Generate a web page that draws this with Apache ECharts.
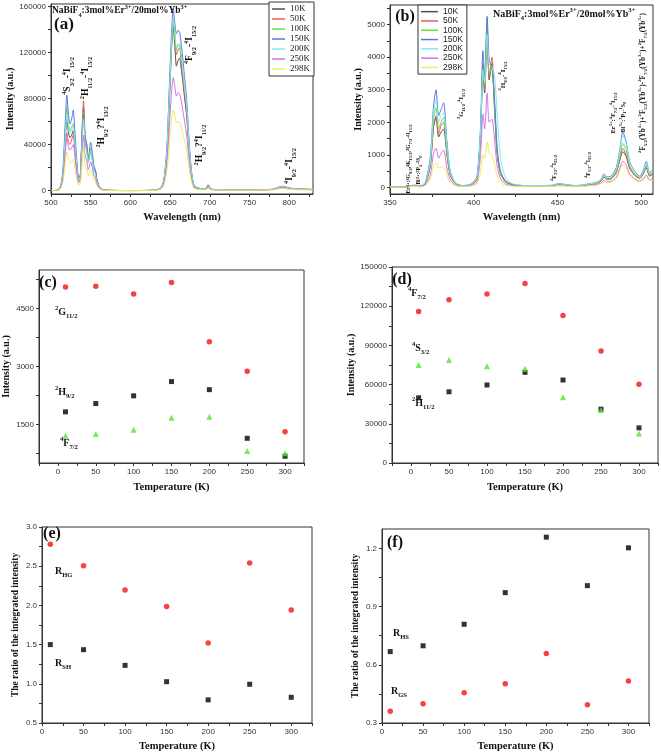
<!DOCTYPE html>
<html><head><meta charset="utf-8">
<script src="https://cdn.jsdelivr.net/npm/echarts@6/dist/echarts.min.js"></script>
<style>html,body{margin:0;padding:0;background:#fff}#c{width:661px;height:755px}</style>
</head><body><div id="c"></div>
<script>
// ---------- DATA ----------
const names = ['10K','50K','100K','150K','200K','250K','298K'];
// panel (a) spectra
const wlA = [500,508,512,515,518,520,522,524,526,528,530,533,535,537,539,541,543,545,547,550,552,554,556,558,562,570,600,630,638,642,646,649,652,654,656,658,660,662,664,666,668,671,675,680,690,695,698,701,710,750,780,786,791,796,802,815,830];
const a10K = [0,200,3000,13000,45000,62000,50000,46000,48000,52000,40000,17000,9000,12000,48000,72000,42000,36000,25000,34000,27000,18000,16000,8000,1800,300,0,300,2200,7500,31000,76000,125000,142000,125000,108000,113000,115000,106000,95000,82000,64000,27000,4000,1400,1400,4800,1400,700,500,1000,2400,3200,2800,1700,1100,900];
const a50K = [0,200,2500,11000,37000,50000,42000,40000,44000,48000,36000,15000,8000,12000,50000,78000,48000,40000,27000,36000,28000,19000,18000,9000,2000,300,0,300,2300,8000,33000,79000,130000,148000,132000,118000,122000,124000,110000,98000,85000,66000,28000,4200,1400,1400,5000,1400,700,500,1000,2300,3000,2700,1700,1100,900];
const a100K = [0,250,3500,15000,52000,72000,58000,52000,55000,58000,45000,19000,9500,13000,45000,68000,44000,37000,26000,37000,29000,19000,15000,8000,1800,300,0,300,2300,8300,35000,83000,129000,147000,135000,122000,127000,126000,117000,106000,92000,72000,30000,4600,1400,1400,4200,1400,700,500,1100,2500,3400,2900,1800,1200,900];
const a150K = [0,300,4000,18000,60000,83000,66000,58000,62000,70000,52000,22000,11000,14000,45000,66000,46000,40000,28000,42000,33000,22000,17000,9000,2000,300,0,300,2500,9000,38000,90000,140000,158000,145000,136000,139000,138000,127000,115000,100000,78000,33000,5000,1500,1500,4500,1500,800,500,1200,2800,3800,3200,2000,1300,1000];
const a200K = [0,250,3300,14000,48000,66000,54000,50000,53000,56000,43000,18000,9000,12000,40000,62000,40000,34000,24000,35000,27000,18000,14000,7500,1700,300,0,300,2400,8400,35000,84000,132000,150000,138000,124000,125000,128000,118000,107000,93000,73000,31000,4700,1500,1500,4000,1400,700,500,1100,2600,3500,3000,1900,1200,900];
const a250K = [0,150,2200,10000,34000,46000,38000,35000,37000,40000,30000,12500,6500,9000,30000,48000,30000,26000,18000,25000,20000,13000,11000,5500,1300,200,0,200,1600,5500,23000,55000,87000,98000,90000,82000,85000,84000,78000,70000,61000,47000,20000,3000,1000,1000,3000,1000,500,400,800,1800,2400,2100,1300,900,700];
const a298K = [0,100,1500,7000,24000,33000,27000,24000,25000,27000,20000,8500,4500,6000,22000,38000,21000,18000,13000,18000,14000,9000,7500,3800,900,150,0,150,1100,4000,17000,39000,62000,70000,64000,59000,60000,59000,55000,50000,44000,34000,14500,2200,700,700,2000,700,400,300,600,1300,1800,1500,1000,700,500];
// panel (b) spectra
const wlB = [350,355,360,363,365,368,371,374,376,377.5,379,380.5,382,384,386,389,393,397,400,402,404,405.5,406.5,408,409.2,410.8,412.5,414,416,419,423,430,440,447,451,455,460,466,469,473,476,477.8,479.5,482,485,487,489,491,493,496,499,501,503,505,507];
const b10K = [15,15,25,55,60,35,120,650,1850,2150,1550,1700,1800,1000,380,120,50,65,140,280,1500,3500,2900,4900,3300,3800,2300,1000,420,170,85,50,50,55,100,75,50,65,100,120,200,320,250,270,450,800,1100,950,600,380,280,400,600,350,420];
const b50K = [15,15,25,55,60,35,120,680,1900,2200,1650,1900,2000,1050,400,120,50,65,140,290,1600,3800,3000,4700,3400,4000,2500,1050,430,170,85,50,50,55,100,75,50,65,100,120,210,330,260,280,470,850,1200,1000,620,390,290,420,650,370,440];
const b100K = [15,15,25,55,65,35,130,750,2100,2450,1800,2000,2150,1150,420,130,55,70,150,300,1600,3700,3100,5200,3500,3700,2400,1100,450,180,90,55,55,60,110,80,55,70,110,130,220,350,280,300,500,900,1350,1150,680,420,300,430,700,400,480];
const b150K = [20,20,30,60,70,40,150,900,2500,3000,2200,2400,2600,1400,500,150,60,80,180,350,1800,4200,3400,5250,3900,3700,2600,1200,500,200,100,60,60,70,120,90,60,80,120,150,250,420,320,350,600,1100,1700,1400,800,500,350,500,800,450,550];
const b200K = [20,20,30,60,65,40,140,800,2300,2700,2000,2200,2300,1300,480,150,60,80,170,330,1700,3600,3200,4700,3800,3700,3400,2200,900,300,120,60,60,65,115,85,60,75,115,140,240,380,300,330,560,1050,1600,1350,780,480,330,470,750,430,520];
const b250K = [10,10,20,40,45,25,80,380,1050,1200,900,1050,1150,600,240,80,35,45,90,180,950,2250,1800,2900,2000,2100,1400,650,270,110,60,35,35,40,70,55,35,45,70,85,140,220,170,190,320,560,800,700,420,270,200,260,380,230,280];
const b298K = [10,10,15,30,35,20,55,250,650,750,600,620,650,380,150,55,25,35,60,120,450,1000,900,1400,1050,1000,700,350,150,70,40,25,25,30,50,40,25,35,50,65,110,170,140,160,260,460,700,600,360,230,170,220,320,200,240];
// temperature panels
const temps = [10,50,100,150,200,250,300];
const cG112 = [5060,5080,4880,5175,3640,2875,1310];
const cH92  = [1825,2040,2240,2610,2400,1140,675];
const cF72  = [1205,1250,1360,1670,1695,810,755];
const dF72  = [116000,125000,129300,137400,112800,85700,60200];
const dS32  = [75000,78800,74000,72200,50400,40500,22600];
const dH112 = [49900,54500,59700,69400,63500,41200,26900];
const eRHG  = [2.78,2.505,2.195,1.985,1.52,2.54,1.94];
const eRSH  = [1.50,1.435,1.235,1.027,0.795,0.994,0.828];
const fRHS  = [0.668,0.698,0.809,0.972,1.258,1.008,1.203];
const fRGS  = [0.360,0.399,0.456,0.502,0.658,0.394,0.516];
// tick values
const ticksAx = [500,525,550,575,600,625,650,675,700,725,750,775,800,825];
const labsAx  = [500,550,600,650,700,750,800];
const ticksAy = [0,20000,40000,60000,80000,100000,120000,140000,160000];
const labsAy  = [0,40000,80000,120000,160000];
const ticksBx = [350,375,400,425,450,475,500];
const labsBx  = [350,400,450,500];
const ticksBy = [0,500,1000,1500,2000,2500,3000,3500,4000,4500,5000,5500];
const labsBy  = [0,1000,2000,3000,4000,5000];
const ticksTcd = [-25,0,25,50,75,100,125,150,175,200,225,250,275,300,325];
const ticksTef = [0,25,50,75,100,125,150,175,200,225,250,275,300,325];
const labsT   = [0,50,100,150,200,250,300];
const ticksCy = [750,1500,2250,3000,3750,4500,5250];
const labsCy  = [1500,3000,4500];
const ticksDy = [0,15000,30000,45000,60000,75000,90000,105000,120000,135000,150000];
const labsDy  = [0,30000,60000,90000,120000,150000];
const ticksEy = [0.5,0.75,1,1.25,1.5,1.75,2,2.25,2.5,2.75,3];
const labsEy  = [0.5,1,1.5,2,2.5,3];
const ticksFy = [0.3,0.45,0.6,0.75,0.9,1.05,1.2];
const labsFy  = [0.3,0.6,0.9,1.2];

// ---------- STYLE ----------
const SERIF = "'Liberation Serif','Times New Roman',serif";
const SANS = "'Liberation Sans',Arial,sans-serif";
const AX = '#333';
const lineColors = ['#505050','#ee5858','#6ae03c','#5878e0','#80ecec','#d074e8','#eeee55'];
const RED = '#f01414', BLK = '#000000', GRN = '#4fe62c';

function axis(gi, min, max, ticks, labels, name, gap, fmt, nfs){
  return {
    type:'value', gridIndex:gi, min:min, max:max, splitLine:{show:false},
    axisLine:{show:true, onZero:false, lineStyle:{color:AX, width:1}},
    axisTick:{show:true, inside:false, length:3, lineStyle:{color:AX}, customValues:ticks},
    axisLabel:{customValues:labels, fontSize:8, color:'#333', fontFamily:SANS, margin:5,
      formatter: fmt || (v => String(v))},
    name:name, nameLocation:'middle', nameGap:gap,
    nameTextStyle:{fontFamily:SERIF, fontWeight:'bold', fontSize:nfs||10.5, color:'#111'}
  };
}
const f1 = v => Number(v).toFixed(1);

const grids = [
  {left:51, top:4, width:262, height:190},
  {left:390, top:5, width:263, height:189},
  {left:39, top:270, width:265, height:193},
  {left:392, top:267, width:266, height:196},
  {left:42, top:527, width:270, height:196},
  {left:382, top:529, width:267, height:194}
].map(g => Object.assign({show:true, borderColor:'#333', borderWidth:1, backgroundColor:'rgba(0,0,0,0)'}, g));

const xAxes = [
  axis(0, 500, 830, ticksAx, labsAx, 'Wavelength (nm)', 18),
  axis(1, 350, 507, ticksBx, labsBx, 'Wavelength (nm)', 18),
  axis(2, -25, 325, ticksTcd, labsT, 'Temperature (K)', 19),
  axis(3, -25, 325, ticksTcd, labsT, 'Temperature (K)', 19),
  axis(4, 0, 325, ticksTef, labsT, 'Temperature (K)', 18),
  axis(5, 0, 325, ticksTef, labsT, 'Temperature (K)', 18)
];
const yAxes = [
  axis(0, -3000, 162000, ticksAy, labsAy, 'Intensity (a.u.)', 32, null, 10),
  axis(1, -200, 5600, ticksBy, labsBy, 'Intensity (a.u.)', 21, null, 10),
  axis(2, 500, 5500, ticksCy, labsCy, 'Intensity (a.u.)', 28, null, 10),
  axis(3, 0, 150000, ticksDy, labsDy, 'Intensity (a.u.)', 36, null, 10),
  axis(4, 0.5, 3.0, ticksEy, labsEy, 'The ratio of the integrated intensity', 21, f1, 9.5),
  axis(5, 0.3, 1.3, ticksFy, labsFy, 'The ratio of the integrated intensity', 21, f1, 9.5)
];

const series = [];
const specA = [a10K,a50K,a100K,a150K,a200K,a250K,a298K];
const specB = [b10K,b50K,b100K,b150K,b200K,b250K,b298K];
specA.forEach((vals,i) => series.push({type:'line', name:names[i], xAxisIndex:0, yAxisIndex:0,
  data: wlA.map((w,k)=>[w, vals[k]]), symbol:'none', smooth:0.25, color:lineColors[i],
  lineStyle:{width:1, color:lineColors[i]}}));
specB.forEach((vals,i) => series.push({type:'line', name:names[i], xAxisIndex:1, yAxisIndex:1,
  data: wlB.map((w,k)=>[w, vals[k]]), symbol:'none', smooth:0.25, color:lineColors[i],
  lineStyle:{width:1, color:lineColors[i]}}));
function sc(gi, vals, sym, color, size){
  series.push({type:'scatter', xAxisIndex:gi, yAxisIndex:gi, data: temps.map((t,k)=>[t, vals[k]]),
    symbol:sym, symbolSize:size, itemStyle:{color:color}});
}
sc(2, cG112, 'circle', RED, 5.5); sc(2, cH92, 'rect', BLK, 5); sc(2, cF72, 'triangle', GRN, 6);
sc(3, dF72, 'circle', RED, 5.5); sc(3, dH112, 'rect', BLK, 5); sc(3, dS32, 'triangle', GRN, 6);
sc(4, eRHG, 'circle', RED, 5.5); sc(4, eRSH, 'rect', BLK, 5);
sc(5, fRGS, 'circle', RED, 5.5); sc(5, fRHS, 'rect', BLK, 5);

// ---------- annotations (rich text) ----------
function rich(s){
  let out='', buf='', i=0;
  const flush=()=>{ if(buf){ out+='{n|'+buf+'}'; buf=''; } };
  while(i<s.length){
    const c=s[i];
    if((c==='^'||c==='_') && s[i+1]==='['){
      flush(); const j=s.indexOf(']',i);
      out+='{'+(c==='^'?'p':'b')+'|'+s.slice(i+2,j)+'}'; i=j+1;
    } else { buf+=c; i++; }
  }
  flush(); return out;
}
function richStyles(fs, fam, wt){
  const lh = Math.round(fs*1.5), sfs = Math.max(4.5, fs*0.66), slh = Math.round(lh*0.55);
  return {
    n:{fontSize:fs, fontFamily:fam, fontWeight:wt, lineHeight:lh, verticalAlign:'middle', fill:'#111'},
    p:{fontSize:sfs, fontFamily:fam, fontWeight:wt, lineHeight:slh, verticalAlign:'top', fill:'#111'},
    b:{fontSize:sfs, fontFamily:fam, fontWeight:wt, lineHeight:slh, verticalAlign:'bottom', fill:'#111'}
  };
}
function T(x, y, s, fs, opts){
  opts = opts || {};
  const al = opts.align || 'center';
  return {type:'text', x:x, y:y, rotation: opts.rot ? Math.PI/2 : 0, z:100,
    style:{text:rich(s), rich:richStyles(fs, opts.fam||SERIF, opts.wt||'bold'),
      align:al, textAlign:al, verticalAlign:'middle', textVerticalAlign:'middle', fill:'#111'}};
}
const graphics = [
  // (a)
  T(52, 11, 'NaBiF_[4]:3mol%Er^[3+]/20mol%Yb^[3+]', 9.5, {align:'left'}),
  T(64, 25, '(a)', 17),
  T(68, 76, '^[4]S_[3/2]-^[4]I_[15/2]', 9.5, {rot:1}),
  T(86, 78, '^[2]H_[11/2]-^[4]I_[15/2]', 9.5, {rot:1}),
  T(102, 127, '^[2]H_[9/2]?^[4]I_[13/2]', 9.5, {rot:1}),
  T(190, 45, '^[4]F_[9/2]-^[4]I_[15/2]', 9.5, {rot:1}),
  T(200, 145, '^[2]H_[9/2]?^[4]I_[11/2]', 9.5, {rot:1}),
  T(290, 166, '^[4]I_[9/2]-^[4]I_[15/2]', 9.5, {rot:1}),
  // (b)
  T(405, 17, '(b)', 16),
  T(493, 14, 'NaBiF_[4]:3mol%Er^[3+]/20mol%Yb^[3+]', 10, {align:'left'}),
  T(503, 76, '^[2]H_[9/2]-^[4]I_[15/2]', 7, {rot:1}),
  T(461, 104, '^[2]G_[11/2]-^[4]I_[15/2]', 6.5, {rot:1}),
  T(409, 159, 'Er^[3+]:^[2]G_[9/2],^[4]K_[15/2],^[2]G_[7/2]-^[4]I_[15/2]', 5.5, {rot:1}),
  T(419, 170, 'Bi^[3+]:^[3]P_[1]-^[1]S_[0]', 5.5, {rot:1}),
  T(554, 168, '^[4]F_[3/2]-^[4]I_[15/2]', 6, {rot:1}),
  T(588, 165, '^[4]F_[5/2]-^[4]I_[15/2]', 6, {rot:1}),
  T(613, 113, 'Er^[3+]:^[4]F_[7/2]-^[4]I_[15/2]', 6.5, {rot:1}),
  T(623, 117, 'Bi^[3+]:^[3]P_[1]-^[1]S_[0]', 6, {rot:1}),
  T(643, 83, '^[2]F_[5/2](Yb^[3+])+^[2]F_[5/2](Yb^[3+])-^[2]F_[7/2](Yb^[3+])+^[2]F_[7/2](Yb^[3+])', 7.3, {rot:1}),
  // (c)
  T(48, 283, '(c)', 16),
  T(55, 312, '^[2]G_[11/2]', 10, {align:'left'}),
  T(55, 392, '^[2]H_[9/2]', 10, {align:'left'}),
  T(60, 443, '^[4]F_[7/2]', 10, {align:'left'}),
  // (d)
  T(402, 280, '(d)', 16),
  T(408, 293, '^[4]F_[7/2]', 10, {align:'left'}),
  T(412, 348, '^[4]S_[3/2]', 10, {align:'left'}),
  T(412, 403, '^[2]H_[11/2]', 10, {align:'left'}),
  // (e)
  T(52, 534, '(e)', 16),
  T(55, 571, 'R_[HG]', 10, {align:'left'}),
  T(55, 663, 'R_[SH]', 10, {align:'left'}),
  // (f)
  T(395, 543, '(f)', 16),
  T(393, 633, 'R_[HS]', 10, {align:'left'}),
  T(391, 691, 'R_[GS]', 10, {align:'left'})
];

const chart = echarts.init(document.getElementById('c'), null, {renderer:'canvas'});
chart.setOption({
  animation:false,
  backgroundColor:'#fff',
  grid: grids,
  xAxis: xAxes,
  yAxis: yAxes,
  legend: [
    {data:names, orient:'vertical', left:269, top:2, icon:'rect', itemWidth:13, itemHeight:1.5, itemGap:0,
     padding:[2,4,2,3], borderColor:'#333', borderWidth:1, backgroundColor:'#fff',
     textStyle:{fontFamily:SERIF, fontSize:9, color:'#222', lineHeight:10}, selectedMode:false},
    {data:names, orient:'vertical', left:418, top:5, icon:'rect', itemWidth:17, itemHeight:1.5, itemGap:0,
     padding:[2,4,2,3], borderColor:'#333', borderWidth:1, backgroundColor:'#fff',
     textStyle:{fontFamily:SANS, fontSize:8.5, color:'#222', lineHeight:9.3}, selectedMode:false}
  ],
  series: series,
  graphic: graphics
});
</script></body></html>
